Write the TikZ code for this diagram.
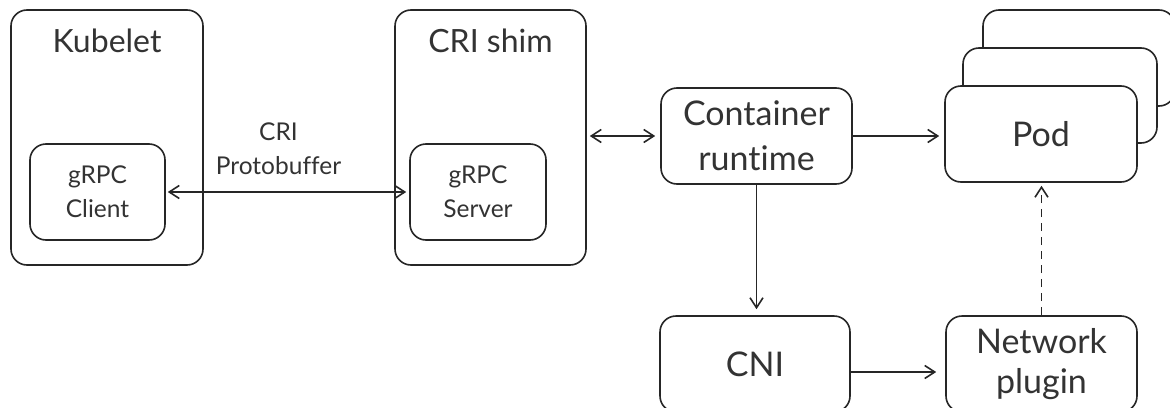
\documentclass[tikz,border=0pt]{standalone}
\usepackage{fontspec}
\setmainfont{Lato}[RawFeature={-liga;-clig;-dlig;-calt}]
\usetikzlibrary{arrows.meta}
\definecolor{ln}{HTML}{262626}
\definecolor{tx}{HTML}{333333}
\begin{document}
\begin{tikzpicture}[x=1pt,y=-1pt,
  box/.style={draw=ln, line width=1.6pt, rounded corners=16pt, fill=white, inner sep=0pt, align=center, text=tx},
  big/.style={font=\fontsize{34}{45}\selectfont},
  bignet/.style={font=\fontsize{34}{40}\selectfont},
  small/.style={font=\fontsize{24.5}{34}\selectfont},
  title/.style={font=\fontsize{32}{38}\selectfont, text=tx, inner sep=0pt},
  barb/.tip={Straight Barb[length=10pt,width=13pt]},
  conn/.style={draw=ln, line width=1.6pt, -barb},
  dconn/.style={draw=ln, line width=1.6pt, barb-barb},
]
\useasboundingbox (0,0) rectangle (1170,407);
% left group
\node[box, minimum width=192pt, minimum height=255pt] (kubelet) at (107,137.5) {};
\node[title, anchor=base] (kubeletlbl) at ([yshift=-43pt]kubelet.north) {Kubelet};
\node[box, small, minimum width=135pt, minimum height=96pt] (client) at (97.5,192) {gRPC\\Client};
\node[box, minimum width=191pt, minimum height=255pt] (shim) at (490.5,137.5) {};
\node[title, anchor=base] (shimlbl) at ([yshift=-43pt]shim.north) {CRI shim};
\node[box, small, minimum width=136pt, minimum height=96pt] (server) at (478,192) {gRPC\\Server};
% right group
\node[box, big, minimum width=191pt, minimum height=96pt] (runtime) at (756.5,136) {Container\\runtime};
\node[box, minimum width=192pt, minimum height=96pt] (pod3) at (1079,58) {};
\node[box, minimum width=194pt, minimum height=95pt] (pod2) at (1060,95.5) {};
\node[box, big, minimum width=192pt, minimum height=96pt] (pod) at (1041,134) {Pod};
\node[box, big, minimum width=190pt, minimum height=96pt] (cni) at (755,364) {CNI};
\node[box, bignet, minimum width=191pt, minimum height=96pt] (net) at (1041.5,364) {Network\\plugin};
% connectors
\draw[dconn, shorten <=2pt, shorten >=3pt] (client.east) -- node[midway, above=17pt, xshift=-9pt, inner sep=0pt, align=center, text=tx, small] (proto) {CRI\\Protobuffer} (server.west);
\draw[dconn, shorten <=3pt, shorten >=5pt] (shim.east |- runtime.west) -- (runtime.west);
\draw[conn, shorten >=5pt] (runtime.east) -- (runtime.east -| pod.west);
\draw[conn, shorten >=6pt] (runtime.south) -- (runtime.south |- cni.north);
\draw[conn, shorten >=9pt] ([yshift=-8pt]cni.east) -- ([yshift=-8pt]cni.east -| net.west);
\draw[conn, dash pattern=on 8pt off 6pt, shorten >=3pt] (net.north) -- (net.north |- pod.south);
\end{tikzpicture}
\end{document}
